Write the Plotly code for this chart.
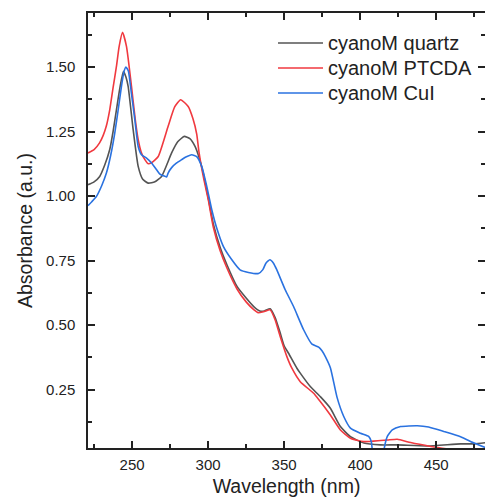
import plotly.graph_objects as go

# UV-vis absorbance spectra of cyanoM films on three substrates
wl_quartz = [221, 225, 228.7, 232, 235.3, 237.5, 239.7, 242, 244.3, 246, 247.4, 250.7,
             254, 257, 260.6, 265, 269.4, 276, 280, 284.3, 288, 291.4, 294, 296.8,
             300, 303.5, 308, 312.3, 319, 325, 330, 334, 337, 340.8, 344, 347.4,
             350, 352.9, 358.4, 360.6, 367.2, 373.8, 380.4, 387, 393.6, 402.4, 413.4, 424.4,
             444, 466, 475, 483]
abs_quartz = [1.044, 1.055, 1.076, 1.120, 1.180, 1.250, 1.334, 1.420, 1.483, 1.460, 1.425, 1.257,
              1.115, 1.065, 1.050, 1.055, 1.076, 1.167, 1.210, 1.231, 1.222, 1.192, 1.150, 1.089,
              0.995, 0.890, 0.800, 0.735, 0.650, 0.605, 0.572, 0.555, 0.555, 0.563, 0.530, 0.470,
              0.420, 0.391, 0.333, 0.314, 0.262, 0.223, 0.178, 0.107, 0.068, 0.043, 0.036, 0.036,
              0.032, 0.040, 0.040, 0.045]

wl_ptcda = [221, 225, 228.6, 231, 233, 235.3, 237.5, 239.7, 241.5, 243.7, 246.3, 249.6,
            252, 254, 256, 258.4, 260.6, 263, 267.2, 273.7, 278, 281.9, 286.9, 290,
            292.5, 294, 297, 300.1, 303.4, 307.8, 312.3, 319, 325, 330, 333, 337,
            340.8, 344.1, 347.4, 351.8, 355.1, 360.6, 369.4, 373, 380.4, 387, 393.6, 402.4,
            413.4, 418, 424.4, 433.2, 446.4, 453, 460, 470, 483]
abs_ptcda = [1.167, 1.180, 1.206, 1.235, 1.270, 1.334, 1.420, 1.502, 1.580, 1.634, 1.580, 1.425,
             1.300, 1.218, 1.170, 1.141, 1.125, 1.130, 1.153, 1.270, 1.345, 1.373, 1.347, 1.300,
             1.240, 1.170, 1.070, 0.986, 0.880, 0.790, 0.722, 0.640, 0.590, 0.560, 0.548, 0.553,
             0.559, 0.520, 0.456, 0.378, 0.333, 0.281, 0.236, 0.210, 0.152, 0.094, 0.062, 0.049,
             0.053, 0.055, 0.058, 0.045, 0.030, 0.024, 0.018, 0.012, 0.008]

wl_cui = [221, 223.5, 226.5, 230, 233.1, 236, 238.6, 241, 243, 244.6, 245.9, 247.5,
          249.5, 251.8, 254, 256.2, 259.5, 262.8, 266.1, 268.3, 270.4, 272.7, 273.7, 276,
          279.3, 282.6, 285, 289.2, 292.5, 295.8, 299, 302.4, 305.7, 310, 315.6, 321,
          326.5, 333.1, 336, 338, 340.6, 343, 345.2, 350.7, 356.2, 362.8, 368.3, 372.7,
          375, 377.1, 380.4, 384.8, 389.2, 393.6, 400.2, 405.7, 407.3, 408.2, 409, 414.5,
          415.2, 417.8, 421.1, 426.6, 437.6, 445, 455, 466, 475, 482.6]
abs_cui = [0.963, 0.978, 0.998, 1.040, 1.089, 1.160, 1.244, 1.340, 1.425, 1.480, 1.500, 1.485,
           1.400, 1.296, 1.192, 1.160, 1.147, 1.128, 1.102, 1.085, 1.079, 1.074, 1.089, 1.110,
           1.128, 1.141, 1.150, 1.160, 1.153, 1.115, 1.040, 0.947, 0.875, 0.805, 0.753, 0.714,
           0.704, 0.700, 0.715, 0.740, 0.753, 0.740, 0.714, 0.637, 0.572, 0.482, 0.426, 0.415,
           0.400, 0.378, 0.335, 0.220, 0.146, 0.101, 0.081, 0.068, 0.049, 0.000, -0.050, -0.050,
           0.000, 0.068, 0.094, 0.107, 0.110, 0.105, 0.088, 0.068, 0.043, 0.025]

series = [
    ("cyanoM quartz", wl_quartz, abs_quartz, "#545454"),
    ("cyanoM PTCDA", wl_ptcda, abs_ptcda, "#f0393f"),
    ("cyanoM CuI", wl_cui, abs_cui, "#2a72e0"),
]

x_ticks = [250, 300, 350, 400, 450]
y_ticks = [0.25, 0.50, 0.75, 1.00, 1.25, 1.50]

FONT = "Liberation Sans, Arial, sans-serif"
INK = "#222222"
LINE_W = 1.6

fig = go.Figure()
for name, x, y, color in series:
    fig.add_trace(go.Scatter(x=x, y=y, mode="lines", name=name, showlegend=False,
                             line=dict(color=color, width=LINE_W, shape="spline", smoothing=0.5)))

# Legend block in the upper right: a 45 px line sample followed by the series name
leg_x0, leg_x1, leg_text_x = 0.4786, 0.592, 0.600
leg_y_top, leg_row_step = 0.931, 0.0575
for i, (name, _, _, color) in enumerate(series):
    yy = leg_y_top - i * leg_row_step
    fig.add_shape(type="line", xref="paper", yref="paper",
                  x0=leg_x0, x1=leg_x1, y0=yy, y1=yy,
                  line=dict(color=color, width=LINE_W))
    fig.add_annotation(xref="paper", yref="paper", x=leg_text_x, y=yy,
                       xanchor="left", yanchor="middle", showarrow=False,
                       text=name, font=dict(family=FONT, size=20, color=INK))

axis_common = dict(
    showline=True, linecolor=INK, linewidth=1.5, mirror="ticks",
    ticks="inside", ticklen=7, tickwidth=1.5, tickcolor=INK,
    showgrid=False, zeroline=False,
    tickfont=dict(family=FONT, size=15, color=INK),
    title_font=dict(family=FONT, size=19.5, color=INK),
)

fig.update_xaxes(
    range=[221, 482.1], tickvals=x_ticks, title_text="Wavelength (nm)",
    minor=dict(ticks="inside", ticklen=4, tickwidth=1.5, tickcolor=INK, dtick=25, tick0=0),
    ticklabelstandoff=2, title_standoff=8, **axis_common)
fig.update_yaxes(
    range=[0.024, 1.709], tickvals=y_ticks, tickformat=".2f", title_text="Absorbance (a.u.)",
    minor=dict(ticks="inside", ticklen=4, tickwidth=1.5, tickcolor=INK, dtick=0.125, tick0=0),
    ticklabelstandoff=8, title_standoff=8, **axis_common)

fig.update_layout(
    width=485, height=504,
    margin=dict(l=88, r=0, t=13, b=56, autoexpand=False),
    paper_bgcolor="white", plot_bgcolor="white",
    showlegend=False,
)

fig.write_html("out.html")
